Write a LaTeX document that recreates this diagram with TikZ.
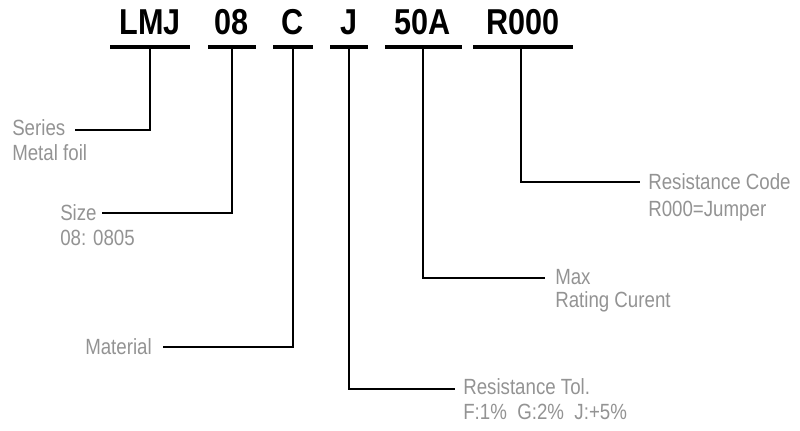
\documentclass[tikz,border=0pt]{standalone}
\usepackage{fontspec}
\setmainfont{Liberation Sans}
\newfontfamily\narrowf[FakeStretch=0.85]{Liberation Sans}
\begin{document}
\begin{tikzpicture}[x=0.75pt,y=-0.75pt,
  code/.style={font=\narrowf\bfseries\fontsize{27}{30}\selectfont, inner sep=0pt, anchor=base},
  lbl/.style={font=\narrowf\fontsize{16.5}{18}\selectfont, text=gray!85, inner sep=0pt},
  bar/.style={line width=2.6pt},
  con/.style={line width=1.4pt}]
\useasboundingbox (0,0) rectangle (800,430);
\node[code] (t1) at (150,34) {LMJ};
\node[code] (t2) at (232,34) {08};
\node[code] (t3) at (293,34) {C};
\node[code] (t4) at (349,34) {J};
\node[code] (t5) at (423,34) {50A};
\node[code] (t6) at (523,34) {R000};
\draw[bar] (110,47) -- (190,47);
\draw[bar] (208,47) -- (256,47);
\draw[bar] (273,47) -- (313,47);
\draw[bar] (330,47) -- (368,47);
\draw[bar] (385,47) -- (462,47);
\draw[bar] (473,47) -- (573,47);
% labels
\node[lbl,anchor=west] (s1) at (12,128) {Series};
\node[lbl,anchor=west] (s1b) at (12,153) {Metal foil};
\node[lbl,anchor=west] (s2) at (60,213) {Size};
\node[lbl,anchor=west] (s2b) at (60,238) {08: 0805};
\node[lbl,anchor=west] (s3) at (85,347) {Material};
\node[lbl,anchor=west] (s4) at (463,387) {Resistance Tol.};
\node[lbl,anchor=west] (s4b) at (463,412) {F:1\%\ \ G:2\%\ \ J:+5\%};
\node[lbl,anchor=west] (s5) at (555,277) {Max};
\node[lbl,anchor=west] (s5b) at (555,302) {Rating Curent};
\node[lbl,anchor=west] (s6) at (648,182) {Resistance Code};
\node[lbl,anchor=west] (s6b) at (648,211) {R000=Jumper};
% connectors
\coordinate (c1) at (150,47); \coordinate (c2) at (232,47); \coordinate (c3) at (293,47);
\coordinate (c4) at (349,47); \coordinate (c5) at (423,47); \coordinate (c6) at (521,47);
\draw[con] (c1) |- (75,130);
\draw[con] (c2) |- (102,213);
\draw[con] (c3) |- (163,347);
\draw[con] (c4) |- (455,389);
\draw[con] (c5) |- (545,278);
\draw[con] (c6) |- (640,182);
\end{tikzpicture}
\end{document}
